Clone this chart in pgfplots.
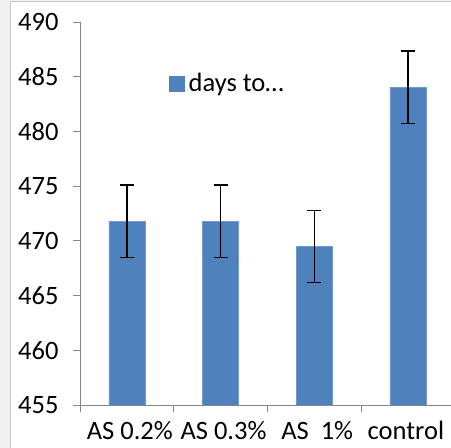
\documentclass[border=0pt]{standalone}
\usepackage{pgfplots}
\pgfplotsset{compat=1.18}
\usepackage{fontspec}
\setmainfont{Carlito}
\definecolor{barblue}{HTML}{4F81BD}
\definecolor{axisgray}{HTML}{868686}
\begin{document}
\begin{tikzpicture}[x=1pt,y=1pt]
\useasboundingbox (0,0) rectangle (451,448);
% outer panel
\fill[gray!12] (0,0) rectangle (10,448);
\fill[gray!12] (0,446) rectangle (451,448);
\draw[gray!45, line width=1pt] (10.5,0) -- (10.5,446.5) -- (451,446.5);
\begin{axis}[
    at={(80pt,43pt)}, anchor=south west,
    scale only axis,
    width=371pt, height=383pt,
    xmin=-0.5, xmax=3.46,
    ymin=455, ymax=490,
    axis lines=left,
    axis line style={-, axisgray, line width=0.9pt},
    ytick={455,460,...,490},
    xtick={0,1,2,3},
    xticklabels={AS 0.2\%, AS 0.3\%, AS\ \ 1\%, \hspace*{-10pt}control},
    minor xtick={-0.5,0.5,1.5,2.5},
    major x tick style={draw=none},
    minor x tick style={axisgray, line width=0.9pt},
    y tick style={axisgray, line width=0.9pt},
    tick align=outside,
    major tick length=7pt,
    minor tick length=7pt,
    /pgf/number format/assume math mode=true,
    tick label style={font=\fontsize{26.5}{30}\selectfont, text=black},
    yticklabel style={xshift=-11pt},
    xticklabel style={yshift=-6pt, xshift=3pt},
    ybar, bar width=36pt,
    legend style={draw=none, fill=none, at={(0.240,0.84)}, anchor=west,
                  font=\fontsize{26.5}{30}\selectfont, text=black,
                  inner sep=0pt},
    legend image code/.code={\fill[barblue] (0pt,-7.5pt) rectangle (15pt,7.5pt);},
]
\addplot+[fill=barblue, draw=barblue!80!white,
    error bars/.cd, y dir=both, y explicit,
    error bar style={black, line width=1.4pt},
    error mark options={rotate=90, mark size=7pt, black, line width=1.4pt}]
  table[x=x, y=y, y error=e] {
    x  y      e
    0  471.8  3.3
    1  471.8  3.3
    2  469.5  3.3
    3  484.05 3.3
  };
\legend{\hspace{2pt}days to…}
\end{axis}
\end{tikzpicture}
\end{document}
